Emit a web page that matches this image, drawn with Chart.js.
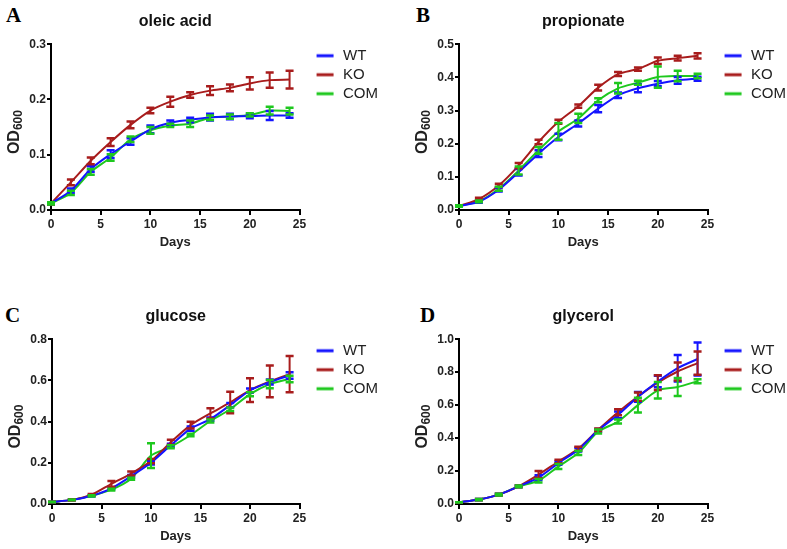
<!DOCTYPE html>
<html>
<head>
<meta charset="utf-8">
<script src="https://cdn.jsdelivr.net/npm/chart.js@4"></script>
<style>
body{margin:0;background:#fff;width:787px;height:549px;position:relative;overflow:hidden}
.p{position:absolute}
.lab{position:absolute;font:bold 21px "Liberation Serif","Times New Roman",serif;color:#000;line-height:1}
</style>
</head>
<body>
<div class="lab" style="left:6px;top:5px">A</div>
<div class="lab" style="left:416px;top:5px">B</div>
<div class="lab" style="left:5px;top:305px">C</div>
<div class="lab" style="left:420px;top:305px">D</div>
<div class="p" style="left:0;top:0"><canvas id="cA" width="393" height="262"></canvas></div>
<div class="p" style="left:395px;top:0"><canvas id="cB" width="392" height="262"></canvas></div>
<div class="p" style="left:0;top:275px"><canvas id="cC" width="393" height="274"></canvas></div>
<div class="p" style="left:395px;top:275px"><canvas id="cD" width="392" height="274"></canvas></div>
<script>
// sampling days
var days = [0, 2, 4, 6, 8, 10, 12, 14, 16, 18, 20, 22, 24];
var xTicks = [0, 5, 10, 15, 20, 25];

// oleic acid
var oleicWT = [0.012, 0.035, 0.074, 0.101, 0.124, 0.146, 0.158, 0.163, 0.168, 0.169, 0.170, 0.171, 0.171];
var oleicWTerr = [0.002, 0.004, 0.005, 0.007, 0.006, 0.007, 0.004, 0.004, 0.006, 0.005, 0.004, 0.008, 0.004];
var oleicKO = [0.012, 0.050, 0.089, 0.123, 0.154, 0.180, 0.196, 0.208, 0.216, 0.221, 0.229, 0.235, 0.236];
var oleicKOerr = [0.002, 0.005, 0.006, 0.007, 0.006, 0.005, 0.009, 0.005, 0.008, 0.006, 0.011, 0.014, 0.016];
var oleicCOM = [0.012, 0.031, 0.069, 0.095, 0.128, 0.144, 0.153, 0.156, 0.167, 0.169, 0.172, 0.180, 0.179];
var oleicCOMerr = [0.002, 0.004, 0.005, 0.006, 0.005, 0.006, 0.003, 0.006, 0.004, 0.004, 0.003, 0.007, 0.006];

// propionate
var propWT = [0.012, 0.025, 0.061, 0.114, 0.170, 0.220, 0.261, 0.306, 0.346, 0.367, 0.381, 0.391, 0.396];
var propWTerr = [0.002, 0.003, 0.005, 0.010, 0.010, 0.010, 0.009, 0.011, 0.008, 0.012, 0.008, 0.010, 0.006];
var propKO = [0.012, 0.033, 0.074, 0.134, 0.205, 0.266, 0.313, 0.369, 0.410, 0.425, 0.450, 0.458, 0.465];
var propKOerr = [0.002, 0.004, 0.005, 0.008, 0.007, 0.006, 0.005, 0.009, 0.006, 0.005, 0.010, 0.007, 0.008];
var propCOM = [0.012, 0.026, 0.064, 0.119, 0.180, 0.237, 0.276, 0.331, 0.367, 0.384, 0.401, 0.404, 0.404];
var propCOMerr = [0.002, 0.003, 0.006, 0.012, 0.010, 0.025, 0.014, 0.006, 0.016, 0.006, 0.032, 0.016, 0.007];

// glucose
var gluWT = [0.010, 0.020, 0.040, 0.076, 0.135, 0.200, 0.285, 0.366, 0.412, 0.480, 0.551, 0.592, 0.624];
var gluWTerr = [0.001, 0.002, 0.003, 0.005, 0.006, 0.008, 0.008, 0.010, 0.008, 0.010, 0.010, 0.012, 0.016];
var gluKO = [0.010, 0.020, 0.045, 0.098, 0.148, 0.208, 0.300, 0.383, 0.440, 0.493, 0.553, 0.595, 0.630];
var gluKOerr = [0.001, 0.003, 0.004, 0.014, 0.010, 0.010, 0.012, 0.016, 0.025, 0.052, 0.058, 0.077, 0.088];
var gluCOM = [0.010, 0.020, 0.040, 0.070, 0.123, 0.235, 0.278, 0.335, 0.403, 0.460, 0.533, 0.582, 0.607];
var gluCOMerr = [0.001, 0.002, 0.003, 0.004, 0.005, 0.060, 0.007, 0.006, 0.007, 0.008, 0.010, 0.020, 0.016];

// glycerol
var glyWT = [0.010, 0.027, 0.057, 0.107, 0.160, 0.248, 0.330, 0.447, 0.541, 0.650, 0.743, 0.824, 0.880];
var glyWTerr = [0.001, 0.004, 0.005, 0.006, 0.015, 0.010, 0.012, 0.008, 0.020, 0.030, 0.035, 0.080, 0.100];
var glyKO = [0.010, 0.027, 0.057, 0.107, 0.178, 0.258, 0.335, 0.450, 0.557, 0.652, 0.737, 0.804, 0.855];
var glyKOerr = [0.001, 0.004, 0.005, 0.006, 0.022, 0.010, 0.012, 0.008, 0.018, 0.025, 0.045, 0.055, 0.070];
var glyCOM = [0.010, 0.027, 0.057, 0.107, 0.141, 0.228, 0.309, 0.440, 0.500, 0.600, 0.690, 0.710, 0.745];
var glyCOMerr = [0.001, 0.004, 0.005, 0.006, 0.010, 0.015, 0.012, 0.012, 0.012, 0.045, 0.050, 0.055, 0.012];

var seriesNames = ['WT', 'KO', 'COM'];
var seriesColors = ['#1414ff', '#a81c1c', '#1ec81e'];
var FONT = '"Liberation Sans", Arial, sans-serif';

// legend sample: a line inside a wider transparent icon
function lineIcon(color) {
  var c = document.createElement('canvas');
  c.width = 32; c.height = 6;
  var g = c.getContext('2d');
  g.strokeStyle = color; g.lineWidth = 3;
  g.beginPath(); g.moveTo(13, 3); g.lineTo(30, 3); g.stroke();
  return c;
}

var errorBars = {
  id: 'errorBars',
  afterDatasetsDraw: function(chart) {
    var ctx = chart.ctx, ys = chart.scales.y;
    chart.data.datasets.forEach(function(ds, di) {
      var meta = chart.getDatasetMeta(di);
      ctx.save();
      ctx.strokeStyle = ds.borderColor;
      meta.data.forEach(function(pt, i) {
        var v = ds.data[i].y, e = ds.errors[i];
        var top = ys.getPixelForValue(v + e), bot = ys.getPixelForValue(v - e);
        ctx.lineWidth = 2;
        ctx.beginPath(); ctx.moveTo(pt.x, top); ctx.lineTo(pt.x, bot); ctx.stroke();
        ctx.lineWidth = 2.5;
        ctx.beginPath();
        ctx.moveTo(pt.x - 4, top); ctx.lineTo(pt.x + 4, top);
        ctx.moveTo(pt.x - 4, bot); ctx.lineTo(pt.x + 4, bot);
        ctx.stroke();
      });
      ctx.restore();
    });
  }
};

// y axis title with a real subscript
var odTitle = {
  id: 'odTitle',
  afterDraw: function(chart) {
    var ctx = chart.ctx, ys = chart.scales.y;
    var cx = ys.left + 15, cy = (chart.chartArea.top + chart.chartArea.bottom) / 2 + 5;
    ctx.save();
    ctx.translate(cx, cy);
    ctx.rotate(-Math.PI / 2);
    ctx.fillStyle = '#222';
    ctx.textBaseline = 'middle';
    ctx.font = 'bold 16px ' + FONT;
    var w1 = ctx.measureText('OD').width;
    ctx.font = 'bold 12px ' + FONT;
    var w2 = ctx.measureText('600').width;
    var x0 = -(w1 + w2) / 2;
    ctx.font = 'bold 16px ' + FONT;
    ctx.fillText('OD', x0, 0);
    ctx.font = 'bold 12px ' + FONT;
    ctx.fillText('600', x0 + w1, 4);
    ctx.restore();
  }
};

function makeChart(id, title, vals, errs, yMax, yStep, pad, xHeight, daysPad) {
  var datasets = vals.map(function(v, k) {
    return {
      label: seriesNames[k],
      data: days.map(function(d, i) { return {x: d, y: v[i]}; }),
      errors: errs[k],
      borderColor: seriesColors[k],
      backgroundColor: seriesColors[k],
      borderWidth: 2,
      pointRadius: 0,
      pointStyle: lineIcon(seriesColors[k]),
      tension: 0.25,
      fill: false
    };
  });
  var tickFont = {family: FONT, size: 12, weight: 'bold'};
  var axisLine = {display: true, color: '#000', width: 2};
  return new Chart(document.getElementById(id), {
    type: 'line',
    data: {datasets: datasets},
    plugins: [errorBars, odTitle],
    options: {
      responsive: false,
      animation: false,
      layout: {padding: pad},
      plugins: {
        title: {
          display: true, text: title, color: '#111', fullSize: false,
          font: {family: FONT, size: 16, weight: 'bold'},
          padding: {top: 12, bottom: 13}
        },
        legend: {
          position: 'right', align: 'start', fullSize: false,
          labels: {
            usePointStyle: true, pointStyleWidth: 32, padding: 4, color: '#222',
            font: {family: FONT, size: 15}
          }
        },
        tooltip: {enabled: false}
      },
      scales: {
        x: {
          type: 'linear', min: 0, max: 25,
          afterBuildTicks: function(s) { s.ticks = xTicks.map(function(v) { return {value: v}; }); },
          afterFit: function(s) { s.height = xHeight; },
          border: axisLine,
          grid: {drawOnChartArea: false, drawTicks: true, tickLength: 5, color: '#000', lineWidth: 2},
          ticks: {color: '#222', font: tickFont, padding: 2, maxRotation: 0},
          title: {display: true, text: 'Days', color: '#222', padding: {top: 4, bottom: daysPad},
                  font: {family: FONT, size: 13, weight: 'bold'}}
        },
        y: {
          min: 0, max: yMax,
          afterFit: function(s) { s.width = 51; },
          border: axisLine,
          grid: {drawOnChartArea: false, drawTicks: true, tickLength: 4, color: '#000', lineWidth: 2},
          ticks: {stepSize: yStep, color: '#222', font: tickFont, padding: 1,
                  callback: function(v) { return v.toFixed(1); }},
          title: {display: false}
        }
      }
    }
  });
}

makeChart('cA', 'oleic acid', [oleicWT, oleicKO, oleicCOM], [oleicWTerr, oleicKOerr, oleicCOMerr], 0.3, 0.1,
  {left: 0, right: 5, top: 0, bottom: 2}, 50, 10);
makeChart('cB', 'propionate', [propWT, propKO, propCOM], [propWTerr, propKOerr, propCOMerr], 0.5, 0.1,
  {left: 13, right: -9, top: 0, bottom: 2}, 50, 10);
makeChart('cC', 'glucose', [gluWT, gluKO, gluCOM], [gluWTerr, gluKOerr, gluCOMerr], 0.8, 0.2,
  {left: 1, right: 5, top: 20, bottom: 0}, 45, 5);
makeChart('cD', 'glycerol', [glyWT, glyKO, glyCOM], [glyWTerr, glyKOerr, glyCOMerr], 1.0, 0.2,
  {left: 13, right: -9, top: 20, bottom: 0}, 45, 5);
</script>
</body>
</html>
